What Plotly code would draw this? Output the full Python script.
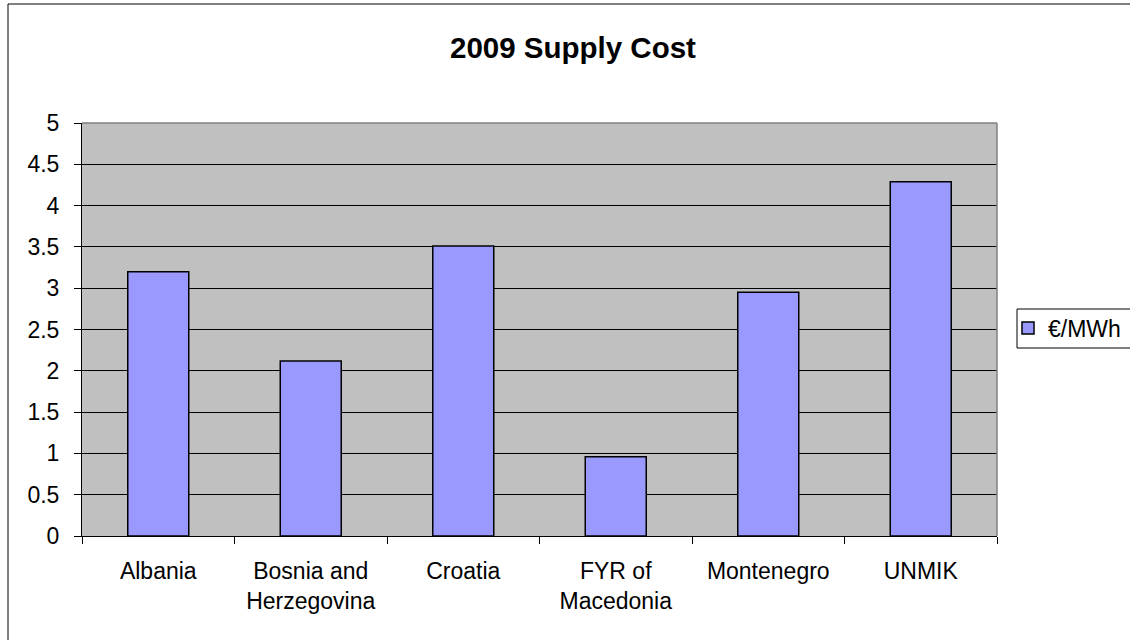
import plotly.graph_objects as go

# Supply cost per country, 2009
countries = ["Albania", "Bosnia and<br>Herzegovina", "Croatia",
             "FYR of<br>Macedonia", "Montenegro", "UNMIK"]
supply_cost = [3.20, 2.12, 3.51, 0.96, 2.95, 4.29]
series_name = "€/MWh"
y_ticks = [0, 0.5, 1, 1.5, 2, 2.5, 3, 3.5, 4, 4.5, 5]
y_tick_labels = ["0", "0.5", "1", "1.5", "2", "2.5", "3", "3.5", "4", "4.5", "5"]

FONT = "Liberation Sans, Arial, sans-serif"

# plot area in pixels: x 82..997, y 123..536
L, R, T, B = 82, 997, 123, 536


def px(x):
    return (x - L) / (R - L)


def py(y):
    return (B - y) / (B - T)


fig = go.Figure(
    go.Bar(
        x=countries,
        y=supply_cost,
        name=series_name,
        marker=dict(color="#9999ff", line=dict(color="black", width=1.5)),
        showlegend=True,
    )
)

fig.update_layout(
    width=1130,
    height=640,
    margin=dict(l=L, r=1130 - R, t=T, b=640 - B, autoexpand=False),
    paper_bgcolor="white",
    plot_bgcolor="#c0c0c0",
    bargap=0.6,
    font=dict(family=FONT, size=23, color="black"),
    showlegend=True,
    legend=dict(
        x=px(1008), y=py(328), xanchor="left", yanchor="middle",
        borderwidth=0, bgcolor="rgba(0,0,0,0)",
        font=dict(size=23), itemwidth=30,
    ),
    annotations=[
        dict(text="<b>2009 Supply Cost</b>", xref="paper", yref="paper",
             x=px(573), y=py(47), xanchor="center", yanchor="middle",
             showarrow=False, font=dict(size=29.5, family=FONT)),
    ],
    shapes=[
        # outer chart frame
        dict(type="rect", xref="paper", yref="paper",
             x0=px(8), x1=px(1140), y0=py(650), y1=py(4),
             line=dict(color="black", width=1), layer="below"),
        # legend box
        dict(type="rect", xref="paper", yref="paper",
             x0=px(1017), x1=px(1140), y0=py(348), y1=py(309),
             line=dict(color="black", width=1), fillcolor="white", layer="below"),
        # plot area top and right edges
        dict(type="line", xref="paper", yref="paper", x0=0, x1=1, y0=1, y1=1,
             line=dict(color="#808080", width=1.5), layer="above"),
        dict(type="line", xref="paper", yref="paper", x0=1, x1=1, y0=0, y1=1,
             line=dict(color="#808080", width=1.5), layer="above"),
    ],
)

fig.update_xaxes(
    showline=True, linecolor="black", linewidth=1,
    ticks="outside", tickson="boundaries", ticklen=7, tickcolor="black",
    showgrid=False, ticklabelstandoff=14,
    tickfont=dict(size=23),
)
fig.update_yaxes(
    range=[0, 5], tickvals=y_ticks, ticktext=y_tick_labels,
    showline=True, linecolor="black", linewidth=1,
    ticks="outside", ticklen=7, tickcolor="black",
    showgrid=True, gridcolor="black", gridwidth=1,
    zeroline=False, ticklabelstandoff=10,
    tickfont=dict(size=23),
)

fig.write_html("out.html")
